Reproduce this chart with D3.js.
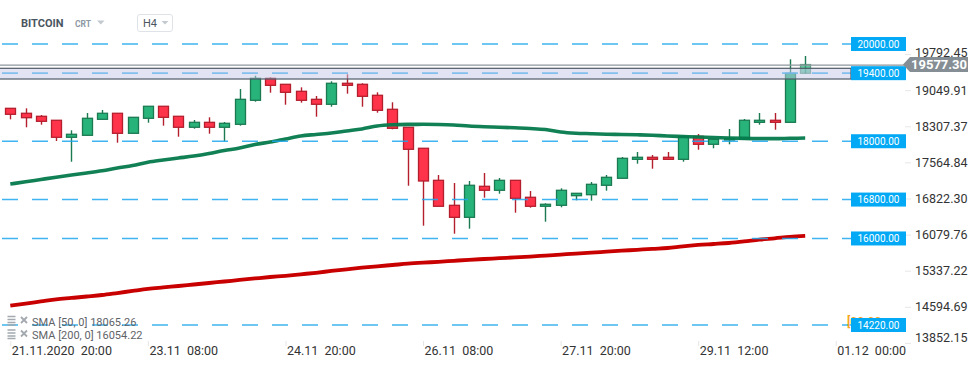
<!DOCTYPE html>
<meta charset="utf-8" />

<!-- Load d3.js -->
<script src="https://d3js.org/d3.v7.min.js"></script>

<style>
	body { margin: 0; background: #fff; }
	text { font-family: Roboto, 'Noto Sans', sans-serif; }
</style>

<!-- Create a div where the graph will take place -->
<div id="my_dataviz"></div>

<script>
	// set the dimensions of the graph
	var width = 974,
		height = 368;

	// H4 candles, one per bar, starting 21.11.2020 20:00
	var opens = [18677, 18575, 18513, 18431, 18081, 18122, 18451, 18575, 18163, 18472,
		18719, 18513, 18287, 18389, 18287, 18348, 18842, 19294, 19171, 19027,
		18862, 18760, 19192, 19171, 18945, 18657, 18287, 17855, 17196, 16682,
		16435, 17073, 16991, 17196, 16847, 16662, 16682, 16880, 16900, 17094,
		17238, 17628, 17670, 17670, 17628, 18101, 17937, 18040, 18040, 18389,
		18431, 18389, 19397];
	var highs = [18677, 18677, 18540, 18431, 18225, 18581, 18642, 18575, 18492, 18719,
		18719, 18513, 18437, 18492, 18396, 19074, 19348, 19315, 19171, 19109,
		18930, 19233, 19377, 19192, 19006, 18801, 18287, 17855, 17305, 17141,
		17182, 17347, 17244, 17196, 16976, 16723, 17032, 16929, 17161, 17305,
		17676, 17779, 17717, 17779, 18128, 18149, 18040, 18252, 18457, 18581,
		18581, 19685, 19753];
	var lows = [18451, 18287, 18340, 18005, 17579, 18122, 18451, 17970, 18163, 18381,
		18320, 18093, 18258, 18155, 17999, 18320, 18813, 18998, 18751, 18793,
		18505, 18710, 18978, 18710, 18587, 18245, 17085, 16263, 16662, 16098,
		16201, 16839, 16921, 16530, 16633, 16345, 16641, 16785, 16777, 16983,
		17238, 17538, 17435, 17628, 17579, 17826, 17855, 17937, 18040, 18340,
		18237, 18389, 19397];
	var closes = [18554, 18484, 18410, 18081, 18143, 18472, 18575, 18163, 18492, 18719,
		18492, 18287, 18389, 18287, 18369, 18862, 19294, 19150, 19006, 18842,
		18760, 19192, 19150, 18924, 18636, 18266, 17834, 17182, 16662, 16435,
		17094, 16991, 17196, 16826, 16662, 16703, 16991, 16929, 17114, 17258,
		17649, 17670, 17628, 17628, 18101, 17937, 18040, 18056, 18431, 18431,
		18389, 19397, 19577.3];

	// moving averages read at each bar
	var sma50 = [17120, 17166, 17213, 17260, 17305, 17347, 17392, 17449, 17501, 17569,
		17614, 17655, 17696, 17748, 17809, 17861, 17933, 17984, 18046, 18108,
		18139, 18169, 18211, 18252, 18313, 18338, 18346, 18348, 18344, 18334,
		18313, 18299, 18289, 18276, 18262, 18241, 18190, 18165, 18155, 18145,
		18139, 18132, 18122, 18108, 18097, 18087, 18077, 18067, 18058, 18054,
		18054, 18060, 18065.26];
	var sma200 = [14617, 14662, 14704, 14747, 14776, 14806, 14837, 14878, 14920, 14961,
		14992, 15022, 15053, 15084, 15115, 15146, 15177, 15207, 15232, 15263,
		15294, 15331, 15366, 15399, 15428, 15454, 15481, 15502, 15520, 15541,
		15561, 15578, 15594, 15611, 15627, 15648, 15668, 15689, 15707, 15728,
		15748, 15767, 15787, 15804, 15839, 15866, 15886, 15907, 15938, 15975,
		16003, 16034, 16054.22];

	// horizontal levels, price zone and last price
	var levels = [20000, 19400, 18000, 16800, 16000, 14220];
	var zone = [19500, 19280];
	var lastPrice = 19577.3;

	// axis ticks
	var yTicks = [19792.45, 19049.91, 18307.37, 17564.84, 16822.3, 16079.76, 15337.22, 14594.69, 13852.15];
	var xTickIdx = [0, 9, 18, 27, 36, 45, 54];
	var xTickLabels = ['21.11.2020  20:00', '23.11  08:00', '24.11  20:00', '26.11  08:00',
		'27.11  20:00', '29.11  12:00', '01.12  00:00'];

	var candles = opens.map(function (o, i) {
		return { i: i, o: o, h: highs[i], l: lows[i], c: closes[i] };
	});

	// append the svg object to the body of the page
	var svg = d3
		.select('#my_dataviz')
		.append('svg')
		.attr('width', width)
		.attr('height', height)
		.style('display', 'block');

	svg.append('rect').attr('width', width).attr('height', height).attr('fill', '#fff');

	// scales
	var x = d3.scaleLinear().domain([0, 52]).range([10.3, 805.2]);
	var y = d3.scaleLinear().domain([20000, 14220]).range([44, 325]);

	// Y axis on the right
	var yAxis = svg
		.append('g')
		.attr('transform', 'translate(905,0)')
		.call(
			d3.axisRight(y)
				.tickValues(yTicks)
				.tickSize(6)
				.tickPadding(4)
				.tickFormat(d3.format('.2f'))
		);
	yAxis.select('.domain').remove();
	yAxis.selectAll('line').attr('stroke', '#e6e6e6');
	yAxis
		.selectAll('text')
		.attr('fill', '#333')
		.style('font-size', '12.5px')
		.attr('dy', function (d, i) {
			if (i === 0) return '0.22em';
			return i === yTicks.length - 1 ? '-0.12em' : '0.32em';
		});

	// X axis
	var xAxis = svg
		.append('g')
		.attr('transform', 'translate(0,341)')
		.call(
			d3.axisBottom(x)
				.tickValues(xTickIdx)
				.tickSize(5)
				.tickFormat(function (d, i) {
					return xTickLabels[i];
				})
		);
	xAxis.select('.domain').remove();
	xAxis.selectAll('line').attr('stroke', '#e6e6e6');
	xAxis
		.selectAll('text')
		.attr('fill', '#333')
		.attr('text-anchor', 'start')
		.attr('x', 1)
		.attr('y', 14)
		.attr('dy', 0)
		.style('font-size', '12.5px')
		.style('white-space', 'pre');

	// candles
	var bw = 10;
	var cg = svg.append('g');
	cg.selectAll('line')
		.data(candles)
		.enter()
		.append('line')
		.attr('x1', function (d) { return Math.round(x(d.i)) + 0.5; })
		.attr('x2', function (d) { return Math.round(x(d.i)) + 0.5; })
		.attr('y1', function (d) { return y(d.h); })
		.attr('y2', function (d) { return y(d.l); })
		.attr('stroke', function (d) { return d.c >= d.o ? '#1b7a52' : '#b41f2e'; })
		.attr('stroke-width', 1.4);

	cg.selectAll('rect')
		.data(candles)
		.enter()
		.append('rect')
		.attr('x', function (d) { return Math.round(x(d.i)) - bw / 2 + 0.5; })
		.attr('y', function (d) { return y(Math.max(d.o, d.c)); })
		.attr('width', bw)
		.attr('height', function (d) { return Math.max(1.5, Math.abs(y(d.o) - y(d.c))); })
		.attr('fill', function (d) { return d.c >= d.o ? '#27b37a' : '#ff3349'; })
		.attr('stroke', function (d) { return d.c >= d.o ? '#1b7a52' : '#b41f2e'; })
		.attr('stroke-width', 1.3)
		.attr('opacity', function (d) { return d.i === 52 ? 0.7 : 1; });

	// SMA lines
	var line = d3.line()
		.x(function (d, i) { return x(i); })
		.y(function (d) { return y(d); })
		.curve(d3.curveMonotoneX);

	svg.append('path')
		.datum(sma200)
		.attr('fill', 'none')
		.attr('stroke', '#c80000')
		.attr('stroke-width', 3.8)
		.attr('d', line);

	svg.append('path')
		.datum(sma50)
		.attr('fill', 'none')
		.attr('stroke', '#047a4c')
		.attr('stroke-width', 3.6)
		.attr('opacity', 0.95)
		.attr('d', line);

	// dashed levels
	svg.append('g')
		.selectAll('line')
		.data(levels)
		.enter()
		.append('line')
		.attr('x1', 2)
		.attr('x2', 851)
		.attr('y1', function (d) { return y(d); })
		.attr('y2', function (d) { return y(d); })
		.attr('stroke', '#1ea8ee')
		.attr('stroke-width', 1.6)
		.attr('stroke-dasharray', '16,14')
		.attr('opacity', 0.85);

	// price zone
	svg.append('rect')
		.attr('x', -2)
		.attr('y', y(zone[0]))
		.attr('width', 853)
		.attr('height', y(zone[1]) - y(zone[0]))
		.attr('fill', '#c5cae9')
		.attr('fill-opacity', 0.5)
		.attr('stroke', '#4f5a65')
		.attr('stroke-width', 1.2);

	// last price line
	svg.append('line')
		.attr('x1', 0)
		.attr('x2', 905)
		.attr('y1', y(lastPrice) + 0.5)
		.attr('y2', y(lastPrice) + 0.5)
		.attr('stroke', '#8d969c')
		.attr('stroke-width', 1.2);

	// orange label mostly hidden behind the 14220 box
	svg.append('text')
		.attr('x', 847)
		.attr('y', 326)
		.attr('fill', '#f5a524')
		.style('font-size', '12px')
		.style('font-weight', 'bold')
		.text('[00.00');

	// level labels
	var lg = svg.append('g')
		.selectAll('g')
		.data(levels)
		.enter()
		.append('g')
		.attr('transform', function (d) { return 'translate(851,' + y(d) + ')'; });
	lg.append('rect')
		.attr('x', 0)
		.attr('y', -7)
		.attr('width', 55)
		.attr('height', 14)
		.attr('fill', '#03a9f4');
	lg.append('text')
		.attr('x', 27.5)
		.attr('y', 3.6)
		.attr('text-anchor', 'middle')
		.attr('fill', '#fff')
		.style('font-size', '10px')
		.text(function (d) { return d3.format('.2f')(d); });

	// last price tag
	var py = y(lastPrice);
	svg.append('path')
		.attr('d', 'M903,' + py + 'L910,' + (py - 7.5) + 'H968V' + (py + 7.5) + 'H910Z')
		.attr('fill', '#858e94');
	svg.append('text')
		.attr('x', 939)
		.attr('y', py + 4.6)
		.attr('text-anchor', 'middle')
		.attr('fill', '#fff')
		.style('font-size', '13px')
		.style('font-weight', 'bold')
		.text(d3.format('.2f')(lastPrice));

	// header
	svg.append('text')
		.attr('x', 21)
		.attr('y', 27)
		.attr('fill', '#4a5560')
		.style('font-size', '11px')
		.style('font-weight', 'bold')
		.text('BITCOIN');
	svg.append('text')
		.attr('x', 75)
		.attr('y', 26.5)
		.attr('fill', '#8d99a3')
		.style('font-size', '8.5px')
		.style('font-weight', 'bold')
		.text('CRT');
	svg.append('path').attr('d', 'M97,20.5H104.5L100.75,24.5Z').attr('fill', '#c3c9ce');
	svg.append('rect')
		.attr('x', 137.5)
		.attr('y', 14.5)
		.attr('width', 35)
		.attr('height', 17)
		.attr('rx', 2.5)
		.attr('fill', '#fff')
		.attr('stroke', '#dfe3e7');
	svg.append('text')
		.attr('x', 143)
		.attr('y', 27)
		.attr('fill', '#4a5560')
		.style('font-size', '11px')
		.text('H4');
	svg.append('path').attr('d', 'M161.5,21H168.5L165,24.5Z').attr('fill', '#c3c9ce');

	// indicator legend
	var legendRows = ['SMA [50, 0] ' + d3.format('.2f')(sma50[52]), 'SMA [200, 0] ' + d3.format('.2f')(sma200[52])];
	var leg = svg.append('g')
		.selectAll('g')
		.data(legendRows)
		.enter()
		.append('g')
		.attr('transform', function (d, i) { return 'translate(0,' + (322 + i * 13.5) + ')'; });
	leg.append('path')
		.attr('d', 'M7.5,-5.5H15.5M7.5,-2.5H15.5M7.5,0.5H15.5M7.5,3H15.5')
		.attr('stroke', '#a3a9ae')
		.attr('stroke-width', 1.6);
	leg.append('path')
		.attr('d', 'M21,-5L27,1M27,-5L21,1')
		.attr('stroke', '#a3a9ae')
		.attr('stroke-width', 1.8);
	leg.append('text')
		.attr('x', 32)
		.attr('y', 3.8)
		.attr('fill', '#5f6368')
		.style('font-size', '11px')
		.text(function (d) { return d; });
</script>
